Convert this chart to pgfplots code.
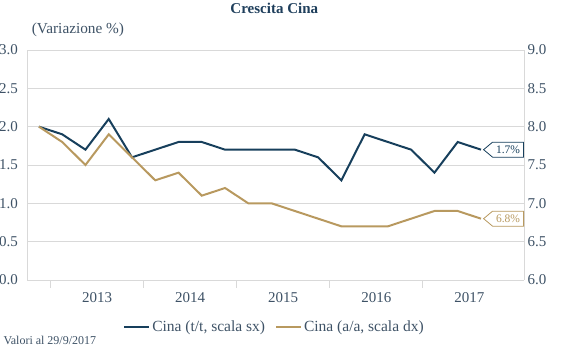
\documentclass[border=0pt]{standalone}
\usepackage{fontspec}
\setmainfont{Liberation Serif}
\usepackage{pgfplots}
\usepackage{pgfplotstable}
\pgfplotsset{compat=1.18}
\usetikzlibrary{shapes.symbols}
\definecolor{cblue}{HTML}{173F5C}
\definecolor{cgold}{HTML}{B8995F}
\definecolor{ctext}{HTML}{3E5266}
\definecolor{cgrid}{HTML}{D9D9D9}
\definecolor{ctitle}{HTML}{1F3F5C}

\pgfplotstableread{
x q a
0 2.0 8.0
1 1.9 7.8
2 1.7 7.5
3 2.1 7.9
4 1.6 7.6
5 1.7 7.3
6 1.8 7.4
7 1.8 7.1
8 1.7 7.2
9 1.7 7.0
10 1.7 7.0
11 1.7 6.9
12 1.6 6.8
13 1.3 6.7
14 1.9 6.7
15 1.8 6.7
16 1.7 6.8
17 1.4 6.9
18 1.8 6.9
19 1.7 6.8
}\data

\pgfplotsset{
  common/.style={
    at={(0pt,0pt)}, anchor=south west,
    scale only axis, width=496.7pt, height=230pt,
    xmin=-0.5, xmax=20.85,
    /pgf/number format/assume math mode=true,
    /pgf/number format/.cd, fixed, fixed zerofill, precision=1, /pgfplots/.cd,
    tick label style={font=\fontsize{15}{17}\selectfont, text=ctext},
    axis line style={-, draw=cgrid},
  }
}

\begin{document}
\begin{tikzpicture}
\useasboundingbox (-27.3pt,-83pt) rectangle (557.7pt,280pt);
\begin{axis}[common,
  ymin=0, ymax=3, ytick={0,0.5,...,3},
  axis x line*=bottom, axis y line*=left,
  ymajorgrids, grid style={cgrid, line width=0.8pt},
  tick align=outside, major tick length=8pt,
  ytick style={draw=none},
  x tick style={draw=cgrid, line width=0.8pt},
  xtick={0.5,4.5,8.5,12.5,16.5}, xticklabels={,,,,},
  extra x ticks={2.5,6.5,10.5,14.5,18.5},
  extra x tick labels={2013,2014,2015,2016,2017},
  extra x tick style={major tick length=0pt, grid=none, tick label style={yshift=-9pt}},
  yticklabel style={xshift=2pt},
]
\addplot[cblue, line width=2pt] table[x=x, y=q] {\data};
\node[signal, signal to=west, signal pointer angle=80, draw=cblue, line width=0.8pt, fill=white, text=cblue,
  font=\fontsize{11.5}{12}\selectfont, minimum height=15pt, minimum width=40pt, inner sep=1pt, anchor=east]
  at (axis cs:20.85,1.7) {1.7\%};
\end{axis}
\begin{axis}[common,
  ymin=6, ymax=9, ytick={6,6.5,...,9},
  axis x line=none, axis y line*=right,
  ytick style={draw=none}, major tick length=0pt,
  yticklabel style={anchor=west, xshift=0pt},
  legend style={at={(0.4977,-0.203)}, anchor=center, draw=none, fill=none,
    font=\fontsize{15.5}{17}\selectfont, text=ctext, legend columns=2,
    /tikz/every even column/.append style={column sep=8pt}},
  legend image code/.code={\draw[#1] (0pt,0pt) -- (25pt,0pt);},
]
\addlegendimage{cblue, line width=2pt}
\addlegendentry{Cina (t/t, scala sx)}
\addplot[cgold, line width=2pt] table[x=x, y=a] {\data};
\addlegendentry{Cina (a/a, scala dx)}
\node[signal, signal to=west, signal pointer angle=80, draw=cgold, line width=0.8pt, fill=white, text=cgold,
  font=\fontsize{11.5}{12}\selectfont, minimum height=15pt, minimum width=40pt, inner sep=1pt, anchor=east]
  at (axis cs:20.85,6.8) {6.8\%};
\end{axis}
\node[font=\bfseries\fontsize{15}{17}\selectfont, text=ctitle] at (247pt,272pt) {Crescita Cina};
\node[font=\fontsize{15.3}{17}\selectfont, text=ctext, anchor=west, inner sep=0pt] at (4.4pt,250pt) {(Variazione \%)};
\node[font=\fontsize{12}{14}\selectfont, text=ctext, anchor=west, inner sep=0pt] at (-24pt,-60pt) {Valori al 29/9/2017};
\end{tikzpicture}
\end{document}
